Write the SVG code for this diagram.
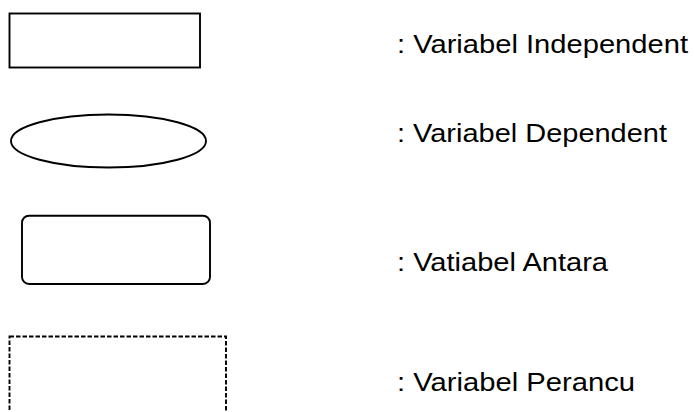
<svg xmlns="http://www.w3.org/2000/svg" width="694" height="412" viewBox="0 0 694 412">
<style>
.shape{fill:#fff;stroke:#000;stroke-width:1.9}
.dash{stroke-dasharray:4.5 2}
.lbl{font-family:"Liberation Sans",Arial,sans-serif;font-size:25px;fill:#000}
</style>
<rect width="694" height="412" fill="#fff"/>
<g id="node-independent">
<rect class="shape" x="9.5" y="13.5" width="190.5" height="54"/>
<text class="lbl" x="397" y="52.5" textLength="291" lengthAdjust="spacingAndGlyphs">: Variabel Independent</text>
</g>
<g id="node-dependent">
<ellipse class="shape" cx="108.5" cy="141" rx="97.5" ry="26.5"/>
<text class="lbl" x="397" y="142" textLength="270" lengthAdjust="spacingAndGlyphs">: Variabel Dependent</text>
</g>
<g id="node-antara">
<rect class="shape" x="22" y="215.7" width="188" height="68.3" rx="7" ry="7"/>
<text class="lbl" x="397" y="271" textLength="211" lengthAdjust="spacingAndGlyphs">: Vatiabel Antara</text>
</g>
<g id="node-perancu">
<rect class="shape dash" x="9.5" y="336.5" width="216.5" height="90"/>
<text class="lbl" x="397" y="391" textLength="238" lengthAdjust="spacingAndGlyphs">: Variabel Perancu</text>
</g>
<g id="connectors"/>
</svg>
